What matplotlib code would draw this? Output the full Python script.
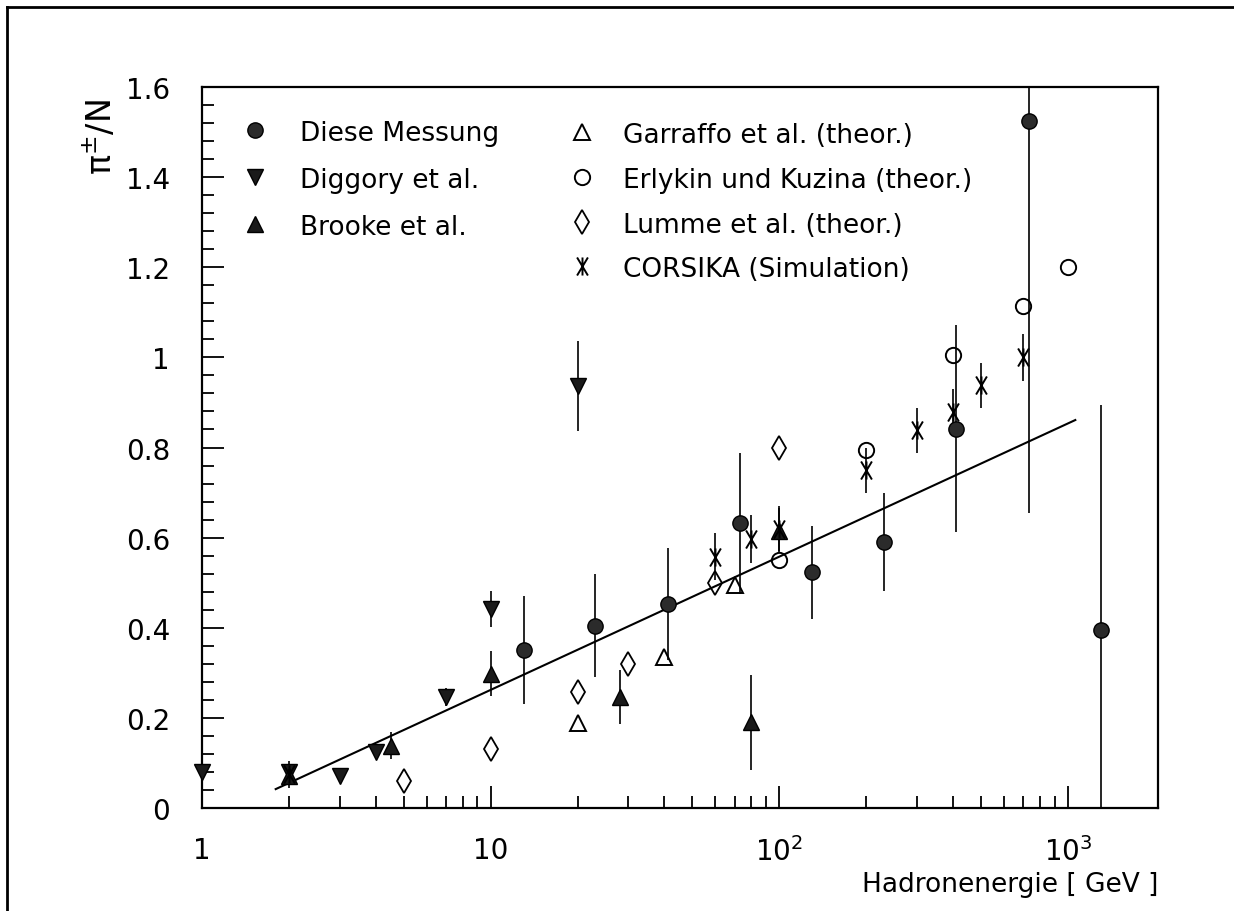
import numpy as np
import matplotlib
matplotlib.use('Agg')
import matplotlib.pyplot as plt
from matplotlib.path import Path
from matplotlib.lines import Line2D
from matplotlib.ticker import FixedLocator, FixedFormatter, MultipleLocator, NullFormatter

# Diese Messung (eigene Daten)
mess_E = [13, 23, 41, 73, 130, 230, 410, 730, 1300]
mess_y = [0.35, 0.405, 0.453, 0.632, 0.523, 0.59, 0.842, 1.524, 0.394]
mess_err = [0.12, 0.115, 0.125, 0.156, 0.103, 0.108, 0.23, 0.87, 0.5]

# Diggory et al.
digg_E = [1, 2, 3, 4, 7, 10, 20]
digg_y = [0.08, 0.08, 0.072, 0.124, 0.246, 0.442, 0.936]
digg_err = [0.0, 0.0, 0.0, 0.01, 0.02, 0.04, 0.1]

# Brooke et al.
brooke_E = [2, 4.5, 10, 28, 80, 100]
brooke_y = [0.07, 0.138, 0.298, 0.247, 0.19, 0.615]
brooke_err = [0.01, 0.03, 0.05, 0.06, 0.105, 0.05]

# Theorie
garr_E = [20, 40, 70]
garr_y = [0.188, 0.336, 0.496]
erly_E = [100, 200, 400, 700, 1000]
erly_y = [0.55, 0.794, 1.005, 1.113, 1.2]
lumme_E = [5, 10, 20, 30, 60, 100]
lumme_y = [0.061, 0.131, 0.258, 0.32, 0.5, 0.8]

# CORSIKA
cors_E = [2, 60, 80, 100, 200, 300, 400, 500, 700]
cors_y = [0.075, 0.558, 0.597, 0.62, 0.75, 0.838, 0.879, 0.938, 1.0]
cors_err = [0.03, 0.053, 0.053, 0.05, 0.05, 0.05, 0.05, 0.05, 0.053]

# Anpassung
fit_E = [1.8, 1060]
fit_y = [0.042, 0.861]

xtick_pos = [1, 10, 100, 1000]
xtick_lab = ['1', '10', r'$\mathregular{10^2}$', r'$\mathregular{10^3}$']
xminor_pos = [2, 3, 4, 5, 6, 7, 8, 9,
              20, 30, 40, 50, 60, 70, 80, 90,
              200, 300, 400, 500, 600, 700, 800, 900]

plt.rcParams['font.family'] = ['DejaVu Sans']
plt.rcParams['mathtext.fontset'] = 'dejavusans'

# Stern aus X und senkrechtem Strich
M, L = Path.MOVETO, Path.LINETO
star = Path([(-0.6, -1), (0.6, 1), (-0.6, 1), (0.6, -1), (0, -1), (0, 1)],
            [M, L, M, L, M, L])

fig = plt.figure(figsize=(12.34, 9.12), dpi=100)
ax = fig.add_axes([0.1637, 0.1129, 0.7747, 0.7906])

# Rahmen oben und links
fig.add_artist(Line2D([0.0053, 1.0], [0.991, 0.991], color='black', lw=2.0))
fig.add_artist(Line2D([0.0053, 0.0053], [0.0, 0.991], color='black', lw=2.0))

ebar = dict(fmt='none', ecolor='black', elinewidth=1.2, capsize=0)
ax.errorbar(mess_E, mess_y, yerr=mess_err, **ebar)
ax.errorbar(digg_E, digg_y, yerr=digg_err, **ebar)
ax.errorbar(brooke_E, brooke_y, yerr=brooke_err, **ebar)
ax.errorbar(cors_E, cors_y, yerr=cors_err, **ebar)

ax.plot(fit_E, fit_y, color='black', lw=1.5)

styles = {
    'mess': dict(marker='o', ms=11, mfc='#2b2b2b', mec='black', mew=1.0),
    'digg': dict(marker='v', ms=12, mfc='#1a1a1a', mec='black', mew=1.0),
    'brooke': dict(marker='^', ms=12, mfc='#1a1a1a', mec='black', mew=1.0),
    'garr': dict(marker='^', ms=11, mfc='none', mec='black', mew=1.4),
    'erly': dict(marker='o', ms=11, mfc='none', mec='black', mew=1.4),
    'lumme': dict(marker='d', ms=12, mfc='none', mec='black', mew=1.3),
    'cors': dict(marker=star, ms=13, mfc='none', mec='black', mew=1.4),
}

series = [
    ('mess', mess_E, mess_y),
    ('digg', digg_E, digg_y),
    ('brooke', brooke_E, brooke_y),
    ('garr', garr_E, garr_y),
    ('erly', erly_E, erly_y),
    ('lumme', lumme_E, lumme_y),
    ('cors', cors_E, cors_y),
]
for key, E, y in series:
    ax.plot(E, y, ls='none', clip_on=False, zorder=3, **styles[key])

ax.set_xscale('log')
ax.set_xlim(1, 2050)
ax.set_ylim(0, 1.6)

ax.xaxis.set_major_locator(FixedLocator(xtick_pos))
ax.xaxis.set_major_formatter(FixedFormatter(xtick_lab))
ax.xaxis.set_minor_locator(FixedLocator(xminor_pos))
ax.xaxis.set_minor_formatter(NullFormatter())
ax.yaxis.set_major_locator(MultipleLocator(0.2))
ax.yaxis.set_minor_locator(MultipleLocator(0.04))
ax.yaxis.set_major_formatter(plt.FuncFormatter(lambda v, p: '%g' % round(v, 2)))

ax.tick_params(which='both', direction='in', top=False, right=False, width=1.3,
               labelsize=20)
ax.tick_params(which='major', length=16)
ax.tick_params(which='minor', length=8.5)
ax.tick_params(axis='y', which='major', pad=23)
ax.tick_params(axis='x', which='major', pad=20)
for s in ax.spines.values():
    s.set_linewidth(1.6)

ax.text(-0.106, 0.932, r'$\mathregular{\pi^{\pm}}$/N', transform=ax.transAxes,
        rotation=90, ha='center', va='center', fontsize=24)
ax.text(1.0, -0.106, 'Hadronenergie [ GeV ]', transform=ax.transAxes,
        ha='right', va='center', fontsize=19)

# Legende in zwei Spalten
legend_left = [('mess', 'Diese Messung'), ('digg', 'Diggory et al.'),
               ('brooke', 'Brooke et al.')]
legend_right = [('garr', 'Garraffo et al. (theor.)'),
                ('erly', 'Erlykin und Kuzina (theor.)'),
                ('lumme', 'Lumme et al. (theor.)'),
                ('cors', 'CORSIKA (Simulation)')]
rows_left = [0.940, 0.875, 0.810]
rows_right = [0.9376, 0.875, 0.8128, 0.7517]
for (key, lab), yy in zip(legend_left, rows_left):
    ax.plot([0.0554], [yy], transform=ax.transAxes, ls='none', **styles[key])
    ax.text(0.1025, yy, lab, transform=ax.transAxes, ha='left',
            va='center_baseline', fontsize=19)
for (key, lab), yy in zip(legend_right, rows_right):
    ax.plot([0.3975], [yy], transform=ax.transAxes, ls='none', **styles[key])
    ax.text(0.4404, yy, lab, transform=ax.transAxes, ha='left',
            va='center_baseline', fontsize=19)

fig.savefig('out.png', dpi=100)
